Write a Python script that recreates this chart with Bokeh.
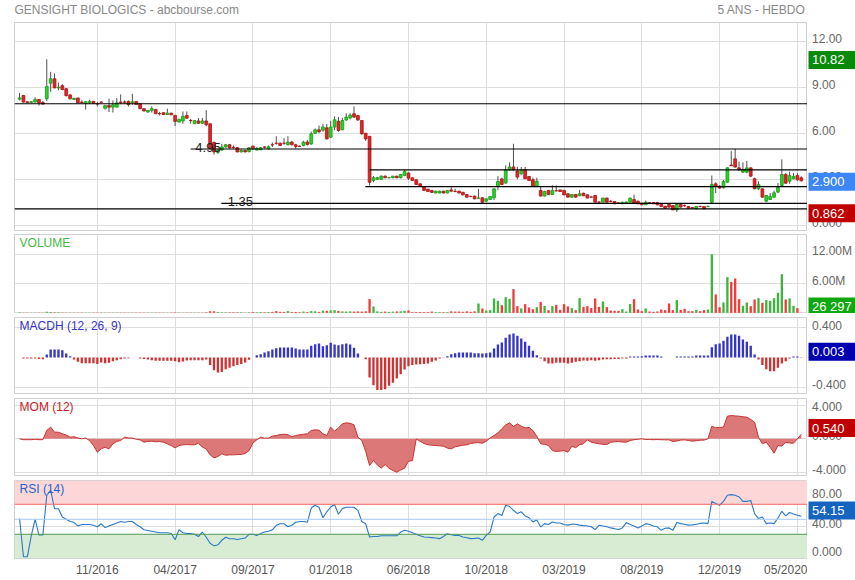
from bokeh.plotting import figure
from bokeh.layouts import column, row
from bokeh.models import Range1d, FixedTicker, Label, BoxAnnotation, Span, Grid, ColumnDataSource
from bokeh.core.properties import value
from bokeh.embed import file_html
from bokeh.resources import INLINE

# ---------------- data (weekly bars, index 0..201) ----------------
OPEN = [
    8.22, 8.46, 8.05, 8.00, 8.03, 8.20, 8.00, 8.25, 9.26, 9.55,
    8.95, 9.10, 8.90, 8.50, 8.20, 8.30, 8.03, 7.95, 8.00, 8.08,
    7.92, 8.03, 7.62, 7.80, 7.70, 7.70, 8.03, 8.03, 8.07, 8.00,
    8.07, 7.92, 7.60, 7.38, 7.49, 7.55, 7.28, 7.34, 7.22, 7.31,
    7.16, 6.73, 6.80, 7.16, 6.83, 6.62, 6.80, 6.65, 6.80, 6.62,
    5.40, 4.75, 4.90, 5.10, 5.25, 5.08, 5.05, 4.78, 4.87, 4.80,
    5.15, 4.90, 4.92, 5.10, 4.98, 5.25, 5.35, 5.35, 5.35, 5.25,
    5.42, 5.25, 5.15, 5.20, 5.42, 5.30, 6.00, 6.22, 6.20, 6.35,
    5.74, 6.40, 6.78, 6.22, 6.87, 7.00, 7.27, 7.15, 6.83, 6.00,
    5.80, 2.92, 3.00, 3.00, 3.20, 3.10, 3.10, 3.20, 3.10, 3.25,
    3.40, 3.09, 2.96, 2.70, 2.48, 2.35, 2.27, 2.10, 2.10, 2.22,
    2.10, 2.30, 2.21, 2.22, 2.15, 2.00, 1.88, 1.90, 1.76, 1.79,
    1.57, 1.68, 1.79, 2.53, 3.02, 2.75, 3.61, 3.80, 3.53, 3.35,
    3.61, 3.18, 2.96, 2.53, 2.27, 1.90, 2.27, 2.00, 2.25, 2.30,
    2.27, 2.05, 1.83, 2.00, 1.92, 2.09, 1.98, 1.84, 1.94, 1.51,
    1.50, 1.77, 1.56, 1.55, 1.45, 1.40, 1.48, 1.50, 1.68, 1.57,
    1.44, 1.33, 1.47, 1.48, 1.48, 1.35, 1.24, 1.35, 1.28, 1.00,
    1.35, 1.28, 1.22, 1.14, 1.07, 1.22, 1.22, 1.21, 1.50, 2.70,
    2.55, 2.44, 2.81, 3.92, 4.33, 3.74, 3.46, 3.46, 3.74, 3.03,
    2.37, 2.37, 1.57, 1.68, 1.83, 2.16, 2.59, 3.31, 2.87, 3.03,
    3.24, 3.09,
]
HIGH = [
    8.62, 8.50, 8.08, 8.08, 8.35, 8.22, 8.10, 10.82, 10.00, 9.90,
    9.30, 9.20, 8.95, 8.55, 8.30, 8.30, 8.14, 8.08, 8.18, 8.08,
    8.03, 8.07, 7.85, 8.25, 8.14, 8.30, 8.53, 8.14, 8.14, 8.57,
    8.10, 7.95, 7.62, 7.50, 7.75, 7.58, 7.38, 7.36, 7.60, 7.33,
    7.16, 6.95, 7.42, 7.42, 6.94, 6.85, 6.98, 7.00, 7.50, 6.62,
    5.45, 5.00, 5.30, 5.30, 5.30, 5.20, 5.10, 4.95, 4.90, 5.10,
    5.20, 5.10, 5.10, 5.15, 5.20, 5.40, 5.80, 5.40, 5.68, 5.80,
    5.50, 5.30, 5.20, 5.50, 5.55, 6.10, 6.30, 6.50, 6.61, 6.60,
    6.80, 7.10, 7.05, 7.00, 7.30, 7.30, 7.75, 7.20, 6.85, 6.00,
    5.80, 3.20, 3.15, 3.25, 3.25, 3.15, 3.22, 3.22, 3.35, 3.60,
    3.45, 3.12, 2.98, 2.72, 2.50, 2.37, 2.30, 2.25, 2.25, 2.25,
    2.30, 2.48, 2.38, 2.25, 2.17, 2.02, 1.92, 1.92, 2.37, 1.82,
    1.75, 1.90, 2.40, 3.20, 3.10, 3.90, 4.10, 5.31, 3.80, 3.80,
    3.80, 3.20, 3.10, 3.10, 2.53, 2.25, 2.30, 2.60, 2.60, 2.32,
    2.30, 2.07, 2.03, 2.02, 2.30, 2.12, 2.00, 1.88, 1.96, 1.55,
    1.80, 1.80, 1.65, 1.58, 1.50, 1.52, 1.55, 1.80, 2.00, 1.60,
    1.46, 1.60, 1.50, 1.50, 1.50, 1.37, 1.26, 1.37, 1.30, 1.40,
    1.40, 1.35, 1.25, 1.18, 1.25, 1.28, 1.24, 1.28, 3.24, 2.80,
    2.60, 2.95, 3.78, 4.83, 4.98, 4.15, 4.10, 4.20, 3.76, 3.10,
    2.85, 2.40, 1.96, 2.10, 2.25, 2.75, 4.29, 3.40, 3.50, 3.40,
    3.40, 3.20,
]
LOW = [
    8.14, 8.00, 7.98, 7.98, 8.00, 7.80, 7.85, 8.10, 8.70, 8.95,
    8.80, 8.80, 8.40, 8.20, 8.18, 7.95, 7.92, 7.55, 7.90, 7.92,
    7.75, 7.95, 7.55, 7.38, 7.35, 7.70, 7.90, 7.92, 7.75, 7.85,
    7.85, 7.58, 7.42, 7.35, 7.35, 7.25, 7.16, 7.20, 7.22, 7.18,
    6.46, 6.70, 6.62, 6.98, 6.62, 6.60, 6.60, 6.62, 6.45, 4.95,
    4.60, 4.65, 4.85, 5.05, 5.00, 4.98, 4.75, 4.75, 4.75, 4.75,
    4.90, 4.88, 4.90, 5.00, 4.95, 5.10, 5.25, 5.15, 5.25, 5.20,
    5.20, 5.00, 5.10, 5.15, 5.20, 5.25, 5.95, 6.00, 6.10, 5.60,
    5.70, 6.20, 6.10, 6.20, 6.80, 6.90, 7.00, 6.80, 5.90, 5.50,
    2.59, 2.80, 2.95, 2.95, 3.05, 3.05, 3.05, 3.05, 3.05, 3.20,
    2.95, 2.90, 2.64, 2.50, 2.25, 2.18, 2.12, 2.08, 2.08, 2.08,
    2.08, 2.20, 2.15, 2.08, 1.95, 1.80, 1.82, 1.70, 1.72, 1.45,
    1.52, 1.65, 1.65, 2.30, 2.60, 2.70, 3.55, 3.55, 3.00, 3.30,
    3.00, 2.90, 2.50, 2.50, 1.88, 1.88, 1.98, 1.98, 2.20, 2.18,
    1.95, 1.80, 1.80, 1.80, 1.90, 1.90, 1.75, 1.80, 1.48, 1.44,
    1.48, 1.48, 1.50, 1.38, 1.40, 1.38, 1.46, 1.48, 1.42, 1.38,
    1.30, 1.32, 1.42, 1.38, 1.30, 1.20, 1.08, 1.15, 0.98, 0.862,
    1.15, 1.20, 1.08, 1.10, 1.05, 1.18, 1.05, 1.18, 1.44, 2.10,
    2.38, 2.40, 2.78, 3.85, 3.75, 3.55, 3.40, 3.40, 3.15, 2.35,
    2.30, 1.80, 1.50, 1.65, 1.80, 2.10, 2.55, 2.70, 2.70, 3.00,
    2.90, 2.85,
]
CLOSE = [
    8.30, 8.03, 8.00, 8.05, 8.20, 7.98, 7.90, 9.05, 9.55, 8.95,
    9.00, 8.85, 8.45, 8.25, 8.28, 7.98, 8.00, 8.05, 8.08, 7.95,
    7.90, 8.02, 7.80, 7.70, 7.85, 7.98, 8.00, 8.02, 7.87, 8.05,
    7.87, 7.60, 7.45, 7.49, 7.60, 7.27, 7.27, 7.22, 7.31, 7.20,
    6.77, 6.90, 7.10, 6.98, 6.82, 6.83, 6.65, 6.80, 6.55, 5.00,
    4.78, 4.90, 5.10, 5.25, 5.05, 5.07, 4.78, 4.87, 4.78, 5.05,
    5.00, 5.00, 5.05, 5.09, 5.12, 5.24, 5.34, 5.20, 5.34, 5.42,
    5.25, 5.13, 5.14, 5.42, 5.27, 5.96, 6.22, 6.10, 6.40, 5.63,
    6.40, 6.87, 6.18, 6.83, 7.05, 7.18, 7.05, 6.87, 5.96, 5.63,
    2.80, 3.10, 3.10, 3.20, 3.10, 3.10, 3.20, 3.10, 3.30, 3.50,
    3.07, 2.92, 2.66, 2.53, 2.27, 2.20, 2.14, 2.22, 2.22, 2.10,
    2.27, 2.22, 2.20, 2.10, 1.98, 1.83, 1.87, 1.72, 1.77, 1.50,
    1.72, 1.87, 2.37, 2.85, 2.66, 3.61, 3.80, 3.61, 3.14, 3.57,
    3.03, 2.92, 2.53, 2.87, 1.90, 2.20, 2.00, 2.27, 2.24, 2.20,
    1.98, 1.83, 2.00, 1.83, 2.05, 1.92, 1.77, 1.83, 1.50, 1.50,
    1.77, 1.50, 1.55, 1.40, 1.44, 1.50, 1.51, 1.77, 1.44, 1.40,
    1.33, 1.50, 1.46, 1.40, 1.33, 1.22, 1.11, 1.18, 1.00, 1.35,
    1.18, 1.27, 1.11, 1.13, 1.22, 1.21, 1.07, 1.22, 2.66, 2.53,
    2.42, 2.85, 3.74, 3.88, 3.79, 3.61, 3.63, 3.74, 3.20, 2.37,
    2.66, 1.83, 1.94, 1.87, 2.11, 2.48, 3.31, 2.74, 3.24, 3.18,
    2.96, 2.90,
]
# volume in millions of shares
VOLUME = [
    0.10, 0.08, 0.06, 0.06, 0.07, 0.08, 0.06, 0.20, 0.18, 0.12,
    0.10, 0.09, 0.08, 0.07, 0.06, 0.07, 0.06, 0.05, 0.06, 0.05,
    0.06, 0.05, 0.07, 0.08, 0.07, 0.09, 0.06, 0.05, 0.06, 0.07,
    0.05, 0.08, 0.07, 0.05, 0.06, 0.07, 0.05, 0.06, 0.05, 0.06,
    0.10, 0.06, 0.08, 0.06, 0.05, 0.05, 0.06, 0.05, 0.12, 0.34,
    0.30, 0.15, 0.12, 0.10, 0.12, 0.10, 0.12, 0.10, 0.08, 0.12,
    0.15, 0.12, 0.15, 0.12, 0.15, 0.18, 0.35, 0.20, 0.18, 0.35,
    0.15, 0.18, 0.12, 0.25, 0.15, 0.35, 0.30, 0.20, 0.45, 0.40,
    0.50, 0.55, 0.40, 0.30, 0.25, 0.30, 0.25, 0.28, 0.25, 0.30,
    2.80, 1.30, 0.30, 0.20, 0.25, 0.20, 0.25, 0.28, 0.30, 0.40,
    0.48, 0.14, 0.14, 0.14, 0.14, 0.14, 0.25, 0.14, 0.14, 0.14,
    0.14, 0.30, 0.25, 0.25, 0.20, 0.30, 0.20, 0.30, 1.90, 0.89,
    0.48, 0.55, 2.94, 2.46, 1.57, 3.20, 2.87, 4.85, 1.37, 0.89,
    1.78, 1.09, 0.75, 1.16, 2.19, 1.43, 0.55, 1.37, 1.64, 0.61,
    1.78, 1.30, 0.96, 0.55, 3.00, 1.23, 1.37, 0.96, 2.94, 1.23,
    2.32, 1.16, 0.48, 0.41, 0.41, 0.75, 0.27, 1.78, 2.80, 0.68,
    0.34, 0.89, 0.27, 0.20, 0.27, 0.68, 0.55, 1.91, 0.55, 2.60,
    0.61, 0.82, 0.34, 0.34, 0.61, 0.34, 0.55, 0.68, 12.00, 3.76,
    1.16, 2.12, 7.30, 6.35, 7.03, 2.80, 1.43, 2.12, 1.37, 2.73,
    3.00, 2.05, 2.60, 2.46, 3.00, 4.10, 7.90, 2.73, 2.94, 1.43,
    0.96, 0.026,
]
MACDH = [
    0.0, -0.013, -0.013, -0.013, -0.013, -0.018, -0.022, 0.04, 0.106, 0.106,
    0.106, 0.097, 0.053, 0.018, -0.026, -0.057, -0.075, -0.075, -0.075, -0.075,
    -0.084, -0.066, -0.075, -0.07, -0.048, -0.035, -0.022, -0.013, -0.01, 0.0,
    0.0, -0.013, -0.018, -0.026, -0.035, -0.044, -0.044, -0.044, -0.044, -0.044,
    -0.048, -0.062, -0.053, -0.04, -0.035, -0.035, -0.035, -0.035, -0.026, -0.1,
    -0.167, -0.198, -0.19, -0.154, -0.136, -0.114, -0.1, -0.084, -0.066, -0.031,
    0.0, 0.031, 0.044, 0.066, 0.084, 0.106, 0.123, 0.132, 0.132, 0.132,
    0.132, 0.119, 0.106, 0.106, 0.106, 0.154, 0.176, 0.185, 0.15, 0.163,
    0.194, 0.172, 0.163, 0.176, 0.185, 0.172, 0.128, 0.053, 0.0, -0.022,
    -0.264, -0.365, -0.43, -0.43, -0.418, -0.374, -0.334, -0.277, -0.22, -0.158,
    -0.114, -0.1, -0.092, -0.088, -0.084, -0.08, -0.057, -0.04, -0.013, -0.004,
    0.018, 0.044, 0.057, 0.066, 0.066, 0.066, 0.066, 0.057, 0.057, 0.053,
    0.057, 0.066, 0.119, 0.172, 0.198, 0.26, 0.304, 0.317, 0.286, 0.25,
    0.207, 0.154, 0.088, 0.031, -0.013, -0.048, -0.08, -0.08, -0.07, -0.07,
    -0.07, -0.08, -0.07, -0.057, -0.048, -0.04, -0.044, -0.035, -0.044, -0.035,
    -0.026, -0.022, -0.022, -0.018, -0.018, -0.013, -0.013, 0.013, 0.013, 0.013,
    0.018, 0.026, 0.026, 0.026, 0.026, 0.013, 0.0, 0.0, 0.0, 0.013,
    0.013, 0.013, 0.013, 0.013, 0.026, 0.026, 0.026, 0.026, 0.136, 0.176,
    0.185, 0.22, 0.273, 0.304, 0.304, 0.286, 0.238, 0.207, 0.154, 0.04,
    -0.026, -0.1, -0.154, -0.18, -0.18, -0.136, -0.08, -0.048, -0.013, 0.013,
    0.013, 0.003,
]
MOM = [
    0.0, -0.1, -0.1, -0.1, -0.05, -0.1, -0.1, 1.0, 1.39, 0.79,
    0.79, 0.6, 0.45, 0.2, 0.25, 0.1, 0.0, 0.1, -0.2, -0.8,
    -1.58, -1.19, -1.0, -1.19, -0.6, -0.3, -0.2, 0.2, 0.1, 0.1,
    -0.05, -0.12, -0.4, -0.3, -0.28, -0.35, -0.32, -0.4, -0.59, -0.8,
    -1.07, -0.8, -0.71, -0.68, -0.7, -0.71, -0.52, -0.98, -1.2, -1.9,
    -2.26, -2.1, -1.78, -1.95, -1.9, -1.9, -1.87, -1.85, -1.74, -1.4,
    -0.5, -0.12, 0.2, 0.08, 0.1, 0.32, 0.4, 0.51, 0.55, 0.5,
    0.24, 0.4, 0.48, 0.55, 0.6, 0.99, 1.07, 1.03, 0.6, 0.4,
    1.39, 0.91, 1.3, 1.78, 1.9, 1.85, 1.66, 0.2, -0.2, -1.5,
    -3.17, -2.57, -3.1, -3.48, -3.05, -3.5, -3.76, -3.96, -3.7, -3.48,
    -2.65, -2.6, 0.0, -0.3, -0.55, -0.7, -0.75, -0.79, -0.83, -0.87,
    -1.1, -1.19, -0.95, -0.85, -0.75, -0.71, -0.55, -0.48, -0.45, -0.52,
    -0.28, 0.1, 0.4, 0.71, 1.2, 1.66, 1.9, 1.47, 1.78, 1.5,
    1.31, 1.35, 0.99, 0.3, -0.59, -0.65, -0.79, -1.39, -1.5, -1.45,
    -1.39, -1.58, -0.87, -1.05, -0.7, -0.59, -0.12, -0.4, -0.5, -0.59,
    -0.65, -0.67, -0.4, -0.35, -0.32, -0.38, -0.4, -0.2, -0.1, -0.05,
    0.0, -0.08, -0.08, -0.1, -0.08, -0.1, -0.12, -0.12, -0.32, -0.25,
    -0.15, -0.12, -0.2, -0.28, -0.22, -0.16, -0.15, 0.0, 1.5, 1.31,
    1.35, 1.39, 2.69, 2.77, 2.72, 2.69, 2.62, 2.57, 2.3, 1.98,
    0.2, -0.59, -0.4, -1.0, -1.7, -0.79, -0.87, -0.4, -0.5, -0.52,
    0.0, 0.54,
]
RSI = [
    51, 0, 0, 28, 50, 29, 29, 82, 88.7, 64,
    64, 53, 50, 47, 46, 41, 43, 43, 43, 42,
    40, 44, 39, 41, 43, 45, 47, 46, 47, 47,
    43, 40, 36, 35, 34, 33, 32, 32, 32, 31,
    22.7, 36, 32, 31, 31, 30, 27, 33, 26, 18,
    14.5, 16, 22, 26, 24, 24, 23, 24, 25, 30,
    30, 28.5, 31, 33, 34, 36, 42, 44, 44, 40,
    42, 46, 47, 47, 46, 65, 68.7, 66, 52, 60,
    66.4, 69.7, 56.7, 64.2, 66, 66, 66, 61.8, 47, 44,
    26.4, 27, 27, 28, 28, 28, 28, 28, 33, 35.3,
    34, 32, 30, 28, 26.4, 26, 25.5, 25, 24.2, 27,
    30.7, 29.5, 28.5, 28.5, 26.5, 25.5, 24.2, 24.5, 25, 22,
    28.5, 33, 53, 57.6, 55, 68.7, 67, 62, 57.6, 60,
    54.5, 52, 46.4, 49, 39.8, 44.2, 43, 46.4, 45, 45,
    43, 42.2, 43.5, 43.3, 42.2, 41.5, 41, 40, 36.3, 42,
    41, 40, 38.5, 37.5, 36.3, 38.5, 45.6, 43, 41, 38.5,
    41, 44.2, 43, 41, 40, 35.3, 38, 38.5, 35.3, 45.6,
    44.2, 43.3, 42.2, 42.5, 43.3, 44.5, 45, 44.2, 73.9, 71,
    68.7, 73.9, 82, 82.9, 82, 79.8, 73.9, 73.9, 75, 57.6,
    51, 53, 44.2, 45, 44.2, 51.8, 60.7, 54.5, 59, 57,
    55.5, 54.15,
]

XTICKS = [20, 40, 60, 80, 100, 120, 140, 160, 180, 200]
XLABELS = ["11/2016", "04/2017", "09/2017", "01/2018", "06/2018",
           "10/2018", "03/2019", "08/2019", "12/2019", "05/2020"]
PRICE_TICKS = [0, 3, 6, 9, 12]
PRICE_LABELS = ["0.000", "3.000", "6.00", "9.00", "12.00"]
VOL_TICKS = [0, 6, 12]
VOL_LABELS = ["", "6.00M", "12.00M"]
MACD_TICKS = [-0.4, 0.4]
MACD_LABELS = ["-0.400", "0.400"]
MOM_TICKS = [-4, 0, 4]
MOM_LABELS = ["-4.000", "0.000", "4.000"]
RSI_TICKS = [0, 40, 80]
RSI_LABELS = ["0.000", "40.00", "80.00"]

LEVEL_VALUES = [7.92, 4.97, 3.61, 2.52, 1.42, 1.07]
LEVEL_START = [-1.3, 44.0, 90.0, 88.9, 51.9, -1.3]
LEVEL_TEXTS = ["4.95", "1.35"]

TITLE_LEFT = "GENSIGHT BIOLOGICS - abcbourse.com"
TITLE_RIGHT = "5 ANS - HEBDO"

n = len(CLOSE)
for arr in (OPEN, HIGH, LOW, VOLUME, MACDH, MOM, RSI):
    assert len(arr) == n, len(arr)

# ---------------- styling / layout ----------------
FONT = "Liberation Sans"
GRID = "#dddddd"
LEFT = 14          # px left of the plotting frames
FRAME_W = 793      # plotting frame width
SIDE_W = 48        # right column for tick labels and value boxes
XR = Range1d(-1.3, 202.6)

up = [c >= o for o, c in zip(OPEN, CLOSE)]
src = ColumnDataSource(dict(
    x=list(range(n)), o=OPEN, h=HIGH, l=LOW, c=CLOSE,
    fc=["#26d326" if u else "#e02424" for u in up],
    lc=["#169a16" if u else "#a81616" for u in up],
    vol=VOLUME, vc=["#3cb63c" if u else "#f23c3c" for u in up],
    macd=MACDH, mc=["#3434c8" if m >= 0 else "#d03232" for m in MACDH],
    mom=MOM, rsi=RSI,
))


def strip_grids(p):
    p.center = [r for r in p.center if not isinstance(r, Grid)]


def make_pair(frame_h, top, bottom, yr, ticks, labels, box_text, box_y, box_color, xaxis=False):
    lo, hi = yr
    p = figure(width=LEFT + FRAME_W, height=top + frame_h + bottom, x_range=XR,
               y_range=Range1d(lo, hi), output_backend="svg", toolbar_location=None,
               x_axis_location="below" if xaxis else None, y_axis_location=None,
               min_border_left=LEFT, min_border_right=0, min_border_top=top,
               min_border_bottom=bottom)
    p.outline_line_color = "#cfcfcf"
    p.border_fill_color = "white"
    strip_grids(p)
    p.add_layout(Grid(dimension=0, ticker=FixedTicker(ticks=XTICKS), grid_line_color=GRID))
    p.add_layout(Grid(dimension=1, ticker=FixedTicker(ticks=ticks), grid_line_color=GRID))
    if xaxis:
        xa = p.xaxis[0]
        xa.ticker = FixedTicker(ticks=XTICKS)
        xa.major_label_overrides = {t: s for t, s in zip(XTICKS, XLABELS)}
        xa.major_tick_out = 0
        xa.major_tick_in = 0
        xa.minor_tick_out = 0
        xa.minor_tick_in = 0
        xa.axis_line_color = None
        xa.major_label_standoff = 4
        xa.major_label_text_font = FONT
        xa.major_label_text_font_size = "12px"
        xa.major_label_text_color = "#555555"

    # right column: same borders and same vertical scale as the panel
    ppu = frame_h / (hi - lo)
    s = figure(width=SIDE_W, height=top + frame_h + bottom, x_range=Range1d(0, SIDE_W),
               y_range=Range1d(lo, hi), output_backend="svg",
               toolbar_location=None, x_axis_location=None, y_axis_location=None,
               min_border_left=0, min_border_right=0, min_border_top=top,
               min_border_bottom=bottom)
    s.outline_line_color = None
    s.border_fill_color = "white"
    strip_grids(s)
    for t, lab in zip(ticks, labels):
        py = (hi - t) * ppu - 3           # label sits 3px above its grid line
        pyc = min(max(py, 7.5), frame_h - 7.5)   # keep it inside the column
        s.text(x=[4.5], y=[t], text=[lab], text_font=value(FONT),
               text_font_size=value("12px"), text_color="#666666", text_align="left",
               text_baseline="middle", y_offset=pyc - (hi - t) * ppu)
    for t, yv, col in zip(box_text, box_y, box_color):
        s.rect(x=[24.5], y=[yv], width=[47], height=[18], height_units="screen",
               fill_color=col, line_color=None)
        s.text(x=[4.5], y=[yv], text=[t], text_font=value(FONT), text_font_size=value("13px"),
               text_color="white", text_align="left", text_baseline="middle")
    return p, s


def panel_title(p, text, y, color):
    p.add_layout(Label(x=0, y=y, text=text, text_color=color, text_font=FONT,
                       text_font_size="12px", text_align="left", text_baseline="middle"))


# ---------------- title band ----------------
head = figure(width=LEFT + FRAME_W + SIDE_W, height=22, x_range=Range1d(0, 855),
              y_range=Range1d(0, 22), output_backend="svg", toolbar_location=None,
              x_axis_location=None, y_axis_location=None,
              min_border_left=0, min_border_right=0, min_border_top=0, min_border_bottom=0)
head.outline_line_color = None
strip_grids(head)
head.text(x=[14], y=[13], text=[TITLE_LEFT], text_font=value(FONT), text_font_size=value("12px"),
          text_color="#888888", text_align="left", text_baseline="middle")
head.text(x=[805], y=[13], text=[TITLE_RIGHT], text_font=value(FONT), text_font_size=value("12px"),
          text_color="#888888", text_align="right", text_baseline="middle")

# ---------------- main price panel ----------------
main, main_s = make_pair(209, 0, 0, (-0.41, 13.22), PRICE_TICKS, PRICE_LABELS,
                         ["10.82", "2.900", "0.862"], [10.78, 2.83, 0.78],
                         ["#0a8a0a", "#3d86f5", "#c00000"])
main.segment(x0="x", y0="l", x1="x", y1="h", source=src, line_color="#505050", line_width=1)
main.vbar(x="x", top="o", bottom="c", width=0.72, fill_color="fc", line_color="lc",
          line_width=0.8, source=src)
main.segment(x0=LEVEL_START, y0=LEVEL_VALUES, x1=[210] * len(LEVEL_VALUES), y1=LEVEL_VALUES,
             line_color="black", line_width=1.2)
main.add_layout(Label(x=45.2, y=LEVEL_VALUES[1] + 0.07, text=LEVEL_TEXTS[0], text_font=FONT,
                      text_font_size="13px", text_color="#222222", text_baseline="alphabetic"))
main.add_layout(Label(x=53.5, y=LEVEL_VALUES[4] + 0.13, text=LEVEL_TEXTS[1], text_font=FONT,
                      text_font_size="13px", text_color="#222222", text_baseline="alphabetic"))

# ---------------- volume ----------------
vol, vol_s = make_pair(79, 3, 0, (-0.14, 16.03), VOL_TICKS, VOL_LABELS,
                       ["26 297"], [1.29], ["#10a810"])
vol.vbar(x="x", top="vol", bottom=0, width=0.6, fill_color="vc", line_color=None, source=src)
panel_title(vol, "VOLUME", 14.3, "#44bb44")

# ---------------- MACD histogram ----------------
macd, macd_s = make_pair(77, 4, 0, (-0.488, 0.528), MACD_TICKS, MACD_LABELS,
                         ["0.003"], [0.075], ["#0000b0"])
macd.vbar(x="x", top="macd", bottom=0, width=0.6, fill_color="mc", line_color=None, source=src)
panel_title(macd, "MACDH (12, 26, 9)", 0.42, "#3434c8")

# ---------------- momentum ----------------
mom, mom_s = make_pair(78, 4, 0, (-4.47, 4.79), MOM_TICKS, MOM_LABELS,
                       ["0.540"], [1.28], ["#c00000"])
mom.varea(x="x", y1=0, y2="mom", fill_color="#dc7878", source=src)
mom.line(x="x", y="mom", line_color="#c83232", line_width=1, source=src)
panel_title(mom, "MOM (12)", 3.75, "#cc2222")

# ---------------- RSI ----------------
rsi, rsi_s = make_pair(78, 4, 22, (-2.27, 101.7), RSI_TICKS, RSI_LABELS,
                       ["54.15"], [61.7], ["#1565c0"], xaxis=True)
rsi.add_layout(BoxAnnotation(bottom=70, fill_color="#fdd7d7", fill_alpha=1, line_color=None, level="underlay"))
rsi.add_layout(BoxAnnotation(top=30, fill_color="#d8ecd4", fill_alpha=1, line_color=None, level="underlay"))
rsi.add_layout(Span(location=70, dimension="width", line_color="#f26666", line_width=1))
rsi.add_layout(Span(location=50, dimension="width", line_color="#a6c8f0", line_width=1))
rsi.add_layout(Span(location=30, dimension="width", line_color="#4f9a4f", line_width=1))
rsi.line(x="x", y="rsi", line_color="#2a78c8", line_width=1.1, source=src)
panel_title(rsi, "RSI (14)", 91, "#2266cc")

layout = column(head,
                row(main, main_s, spacing=0),
                row(vol, vol_s, spacing=0),
                row(macd, macd_s, spacing=0),
                row(mom, mom_s, spacing=0),
                row(rsi, rsi_s, spacing=0),
                spacing=0)
open("out.html", "w").write(file_html(layout, INLINE))
